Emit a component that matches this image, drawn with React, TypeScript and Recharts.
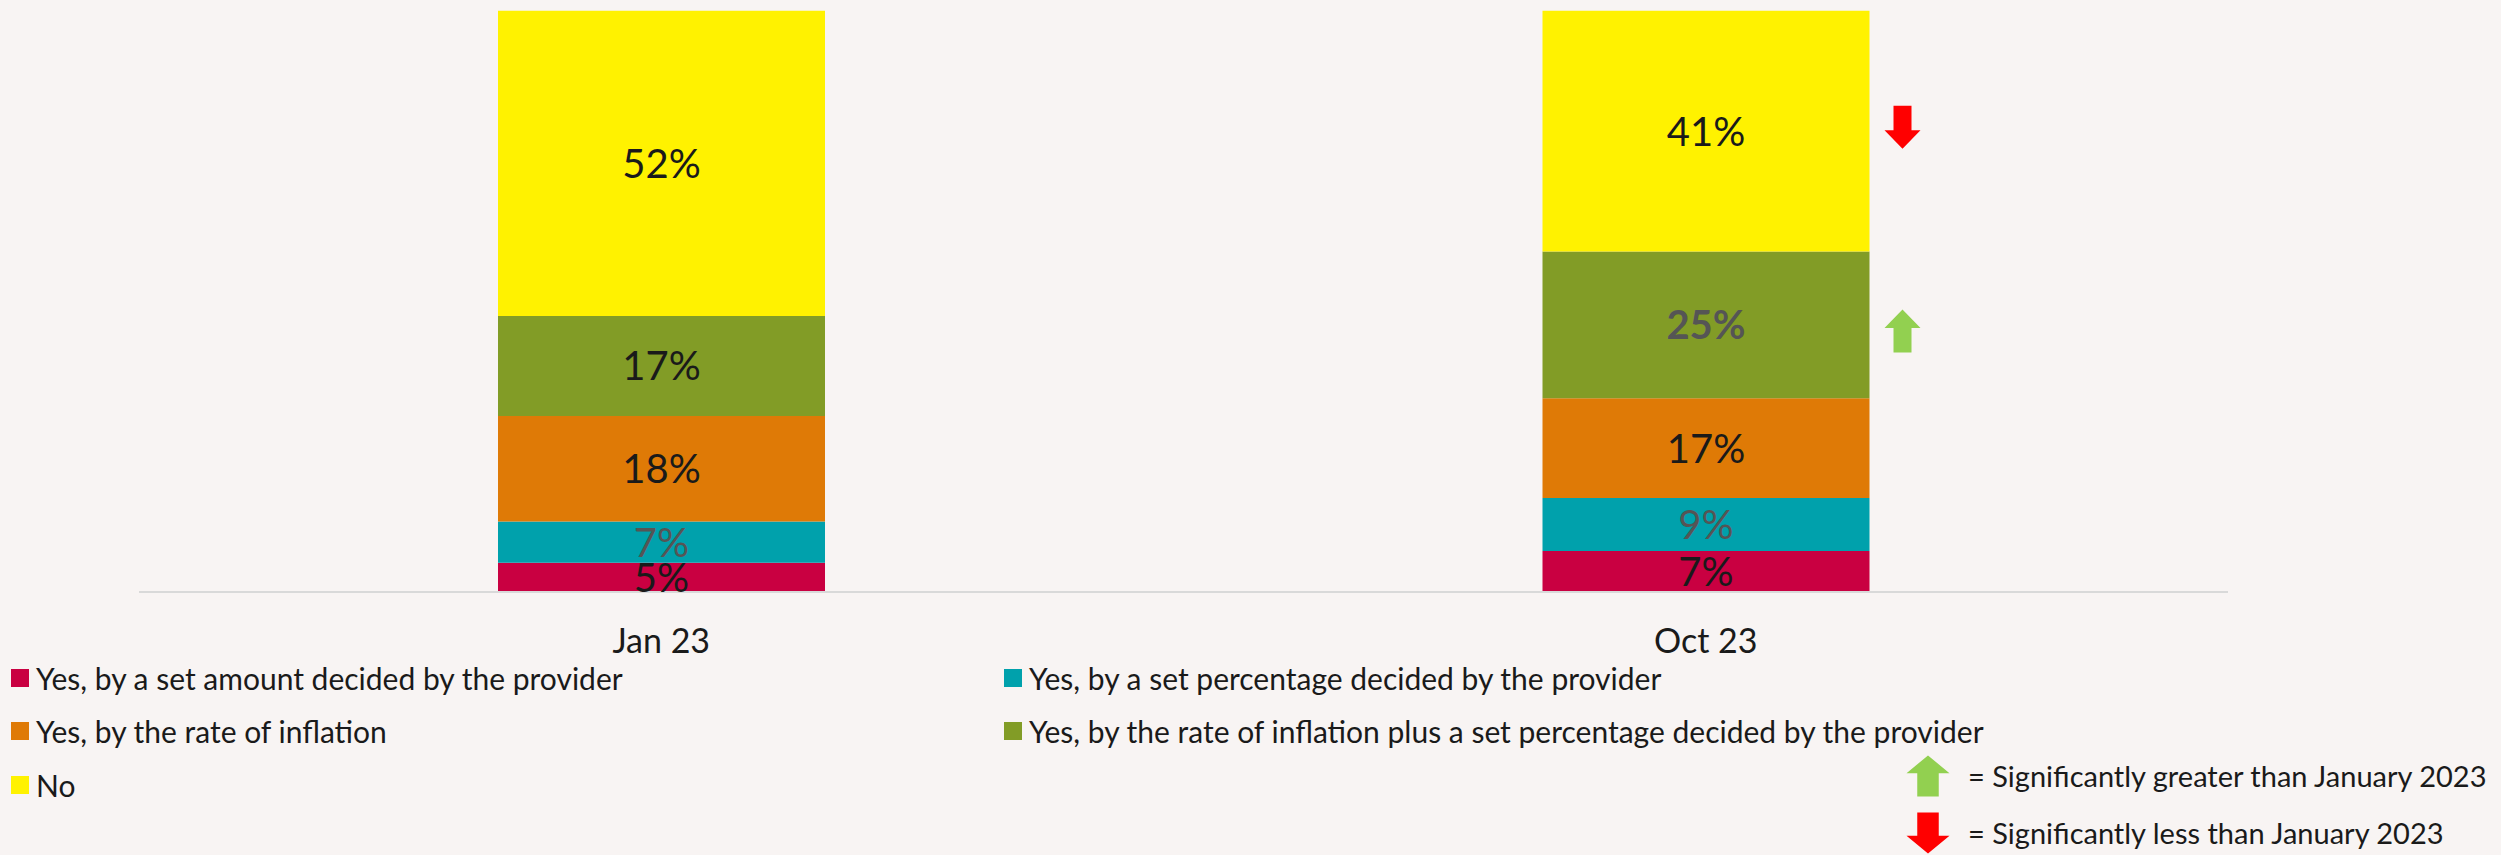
import React from 'react';
import { BarChart, Bar, XAxis, YAxis, LabelList } from 'recharts';

// survey waves
const periods = ['Jan 23', 'Oct 23'];

// % of respondents, bottom to top of each stack
const setAmount = [5, 7];
const setPercentage = [7, 9];
const inflation = [18, 17];
const inflationPlus = [17, 25];
const noIncrease = [52, 41];

// significance vs January 2023
const noChange = ['', 'down'];
const inflationPlusChange = ['', 'up'];

const significanceNotes = [
  { dir: 'up', text: '= Significantly greater than January 2023' },
  { dir: 'down', text: '= Significantly less than January 2023' },
];

const data = periods.map((period, i) => ({
  period,
  setAmount: setAmount[i],
  setPercentage: setPercentage[i],
  inflation: inflation[i],
  inflationPlus: inflationPlus[i],
  noIncrease: noIncrease[i],
}));

const series = [
  { key: 'setAmount', name: 'Yes, by a set amount decided by the provider', color: '#C90041' },
  { key: 'setPercentage', name: 'Yes, by a set percentage decided by the provider', color: '#00A1AC' },
  { key: 'inflation', name: 'Yes, by the rate of inflation', color: '#DF7A06' },
  { key: 'inflationPlus', name: 'Yes, by the rate of inflation plus a set percentage decided by the provider', color: '#829C26' },
  { key: 'noIncrease', name: 'No', color: '#FFF200' },
];

const changes: Record<string, string[]> = {
  noIncrease: noChange,
  inflationPlus: inflationPlusChange,
};

// label ink per series per wave
const GREY = '#555555';
const INK = '#1A1A1A';
const labelInk: Record<string, string[]> = {
  setPercentage: [GREY, GREY],
  inflationPlus: [INK, GREY],
};
const labelBold: Record<string, boolean[]> = {
  inflationPlus: [false, true],
};

const FONT = 'Lato, "Open Sans", sans-serif';
const UP = '#92D050';
const DOWN = '#FF0000';

const arrowPoints = (dir: string, cx: number, cy: number, w: number, h: number) => {
  const hw = w / 2;
  const sw = w / 4;
  const hh = h / 2;
  const head = h * 0.43;
  if (dir === 'up') {
    return [
      [cx, cy - hh], [cx + hw, cy - hh + head], [cx + sw, cy - hh + head], [cx + sw, cy + hh],
      [cx - sw, cy + hh], [cx - sw, cy - hh + head], [cx - hw, cy - hh + head],
    ].map(p => p.join(',')).join(' ');
  }
  return [
    [cx, cy + hh], [cx + hw, cy + hh - head], [cx + sw, cy + hh - head], [cx + sw, cy - hh],
    [cx - sw, cy - hh], [cx - sw, cy + hh - head], [cx - hw, cy + hh - head],
  ].map(p => p.join(',')).join(' ');
};

const makeLabel = (key: string) => (props: any) => {
  const { x, y, width, height, value, index } = props;
  const i = index ?? 0;
  const fill = labelInk[key]?.[i] ?? INK;
  const bold = labelBold[key]?.[i] ?? false;
  return (
    <text
      x={x + width / 2}
      y={y + height / 2}
      dy="0.36em"
      textAnchor="middle"
      fill={fill}
      fontFamily={FONT}
      fontSize={40}
      fontWeight={bold ? 700 : 400}
    >
      {value}%
    </text>
  );
};

const makeArrow = (key: string) => (props: any) => {
  const { x, y, width, height, index } = props;
  const dir = changes[key]?.[index ?? 0];
  if (!dir) return null;
  const cx = x + width + 33;
  const cy = y + height / 2 + (dir === 'up' ? 6 : -4);
  return <polygon points={arrowPoints(dir, cx, cy, 36, 43)} fill={dir === 'up' ? UP : DOWN} />;
};

const PeriodTick = (props: any) => {
  const { x, y, payload } = props;
  return (
    <text x={x} y={y + 49} dy="0.36em" textAnchor="middle" fill={INK} fontFamily={FONT} fontSize={34}>
      {payload.value}
    </text>
  );
};

const legendSlots = [
  { left: 11, top: 678 },
  { left: 1004, top: 678 },
  { left: 11, top: 731 },
  { left: 1004, top: 731 },
  { left: 11, top: 785 },
];

const ChartLegend = () => (
  <>
    {series.map((s, i) => (
      <div
        key={s.key}
        style={{
          position: 'absolute',
          left: legendSlots[i].left,
          top: legendSlots[i].top - 18,
          height: 36,
          display: 'flex',
          alignItems: 'center',
          whiteSpace: 'nowrap',
        }}
      >
        <span style={{ width: 18, height: 18, background: s.color, marginRight: 7, display: 'inline-block' }} />
        <span style={{ fontFamily: FONT, fontSize: 30, color: INK, lineHeight: '36px' }}>{s.name}</span>
      </div>
    ))}
    {significanceNotes.map((n, i) => (
      <div
        key={n.dir}
        style={{
          position: 'absolute',
          left: 1906,
          top: (i === 0 ? 776 : 833) - 22,
          height: 44,
          display: 'flex',
          alignItems: 'center',
          whiteSpace: 'nowrap',
        }}
      >
        <svg width={44} height={44} style={{ marginRight: 18 }}>
          <polygon points={arrowPoints(n.dir, 22, 22, 43, 41)} fill={n.dir === 'up' ? UP : DOWN} />
        </svg>
        <span style={{ fontFamily: FONT, fontSize: 29, color: INK, lineHeight: '36px' }}>{n.text}</span>
      </div>
    ))}
  </>
);

export default function App() {
  return (
    <div style={{ position: 'relative', width: 2501, height: 855, background: '#F8F4F3', overflow: 'hidden' }}>
      <style>{'body{margin:0}'}</style>
      <BarChart
        width={2501}
        height={855}
        data={data}
        margin={{ top: 5, right: 273, left: 139, bottom: 193 }}
      >
        <XAxis
          dataKey="period"
          height={70}
          tickLine={false}
          tickSize={0}
          tickMargin={0}
          axisLine={{ stroke: '#D9D9D9', strokeWidth: 2 }}
          tick={<PeriodTick />}
        />
        <YAxis hide domain={[0, 100]} />
        {series.map(s => (
          <Bar
            key={s.key}
            dataKey={s.key}
            name={s.name}
            stackId="a"
            fill={s.color}
            barSize={327}
            isAnimationActive={false}
          >
            <LabelList dataKey={s.key} content={makeLabel(s.key)} />
            {changes[s.key] && <LabelList dataKey={s.key} content={makeArrow(s.key)} />}
          </Bar>
        ))}
      </BarChart>
      <ChartLegend />
    </div>
  );
}
